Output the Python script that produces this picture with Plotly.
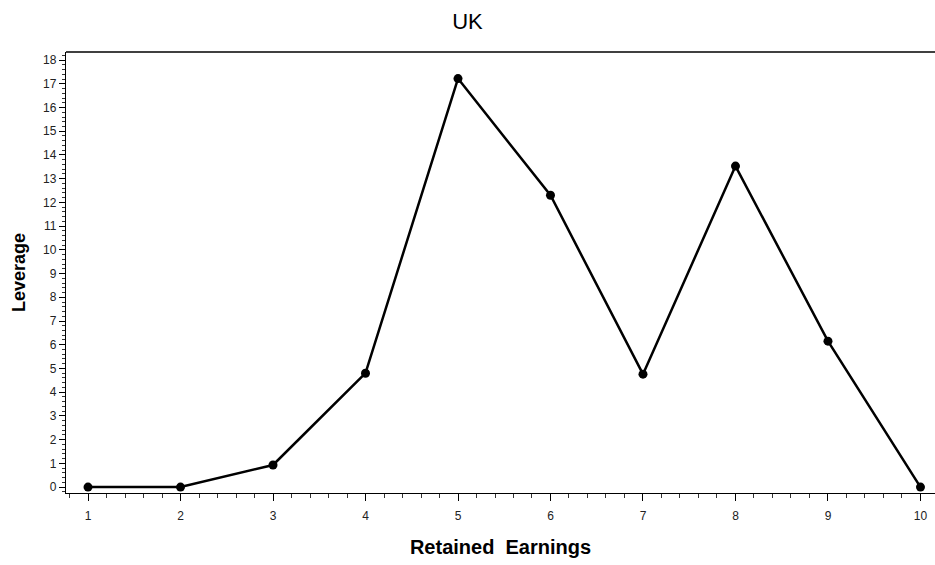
import plotly.graph_objects as go

# Leverage by retained-earnings decile, UK
deciles = [1, 2, 3, 4, 5, 6, 7, 8, 9, 10]
leverage = [0.0, 0.0, 0.93, 4.8, 17.22, 12.3, 4.76, 13.53, 6.15, 0.0]
x_ticks = list(range(1, 11))
y_ticks = list(range(0, 19))

fig = go.Figure()
fig.add_trace(go.Scatter(
    x=deciles, y=leverage, mode="lines+markers",
    line=dict(color="black", width=2.5),
    marker=dict(color="black", size=9),
    showlegend=False, cliponaxis=False,
))

tick_font = dict(family="Liberation Sans, Arial, sans-serif", size=12, color="#222")

fig.update_layout(
    width=935, height=565,
    margin=dict(l=66, r=0, t=52, b=72),
    paper_bgcolor="white", plot_bgcolor="white",
    title=dict(text="UK", x=0.5, xanchor="center", y=0.962, yanchor="middle",
               font=dict(family="Liberation Sans, Arial, sans-serif", size=22, color="black")),
    xaxis=dict(
        range=[0.762, 10.157], tickvals=x_ticks, ticktext=[str(v) for v in x_ticks],
        showgrid=False, zeroline=False, showline=True, linecolor="black", linewidth=1.3,
        ticks="outside", ticklen=7, tickwidth=1, tickcolor="black",
        minor=dict(ticks="outside", ticklen=4, tickwidth=1, tickcolor="#333", dtick=0.2, showgrid=False),
        tickfont=tick_font, ticklabelstandoff=4,
        title=dict(text="<b>Retained  Earnings</b>",
                   font=dict(family="Liberation Sans, Arial, sans-serif", size=20, color="black"),
                   standoff=18),
    ),
    yaxis=dict(
        range=[-0.25, 18.34], tickvals=y_ticks, ticktext=[str(v) for v in y_ticks],
        showgrid=False, zeroline=False, showline=True, linecolor="black", linewidth=1.3,
        ticks="outside", ticklen=6, tickwidth=1, tickcolor="black",
        minor=dict(ticks="outside", ticklen=3, tickwidth=1, tickcolor="#333", dtick=0.2, showgrid=False),
        tickfont=tick_font,
        title=dict(text="<b>Leverage</b>",
                   font=dict(family="Liberation Sans, Arial, sans-serif", size=18, color="black"),
                   standoff=12),
    ),
    shapes=[dict(type="line", xref="paper", yref="paper", x0=0, x1=1, y0=1, y1=1,
                 line=dict(color="black", width=1.3))],
)

fig.write_html("out.html")
